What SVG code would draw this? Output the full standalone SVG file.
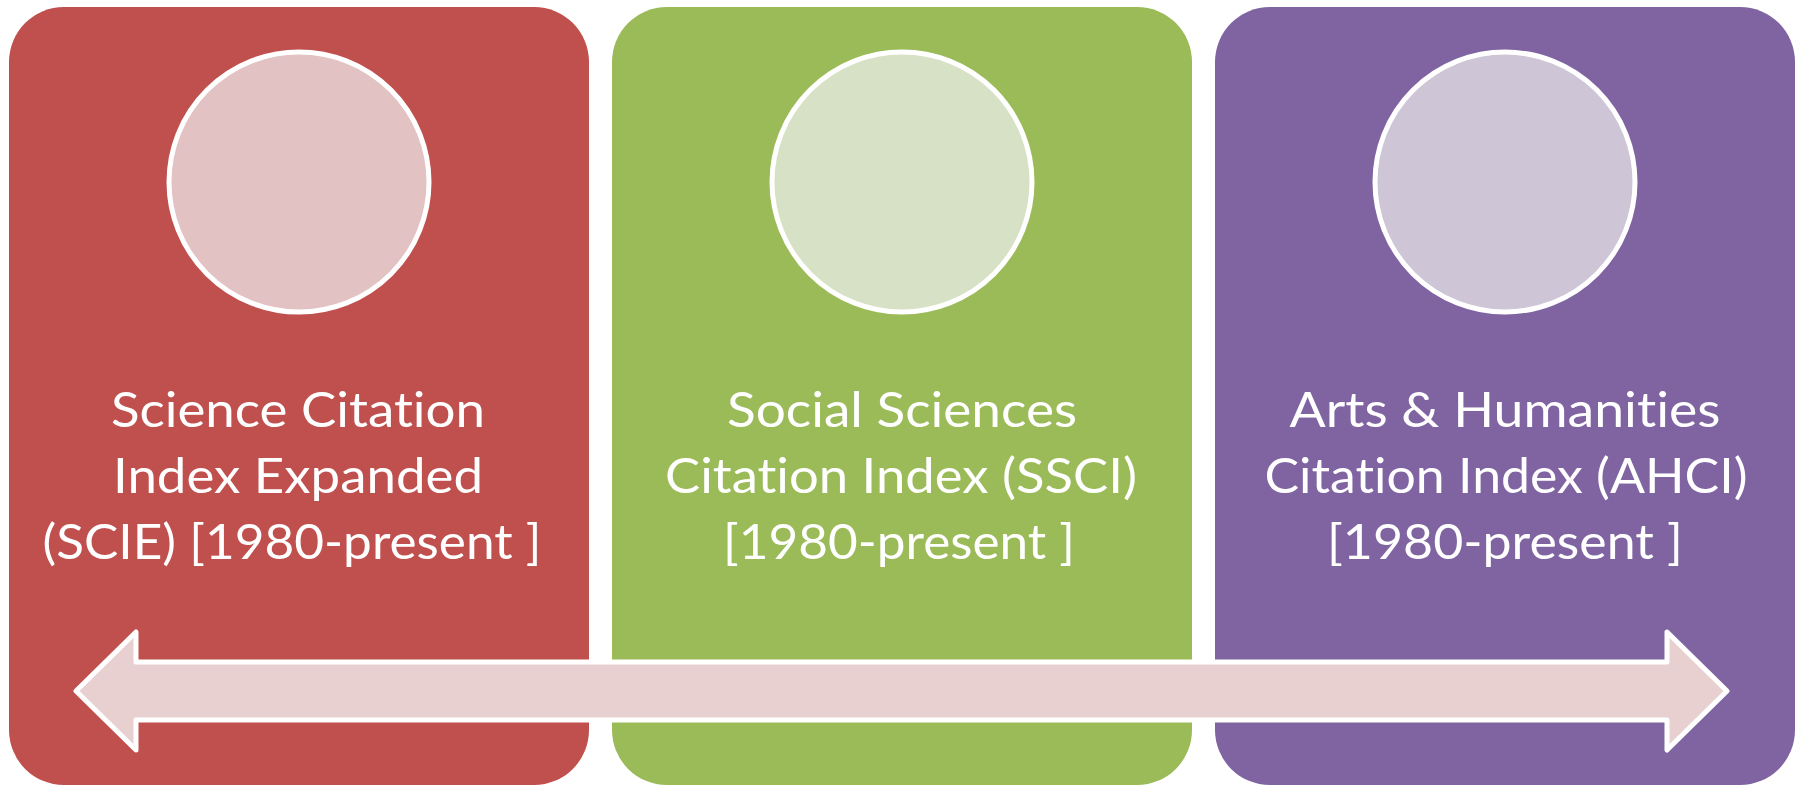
<svg xmlns="http://www.w3.org/2000/svg" width="1803" height="785" viewBox="0 0 1803 785">
<style>
.box{stroke:none}
.disc{stroke:#FFFFFF;stroke-width:5}
.lbl{font-family:Lato,"Open Sans","Liberation Sans",sans-serif;font-size:49px;fill:#FFFFFF;text-anchor:middle;font-variant-ligatures:none;font-feature-settings:"liga" 0,"clig" 0}
.arrow{fill:#E8D0D1;stroke:#FFFFFF;stroke-width:5;stroke-linejoin:round}
</style>
<rect width="1803" height="785" fill="#FFFFFF"/>
<g id="node-scie">
<rect class="box" x="9" y="7" width="580" height="778" rx="55" ry="55" fill="#C0504D"/>
<circle class="disc" cx="299" cy="182" r="130" fill="#E2C2C3"/>
<text class="lbl" x="298" y="427" textLength="374" lengthAdjust="spacingAndGlyphs">Science Citation</text>
<text class="lbl" x="298" y="493" textLength="370" lengthAdjust="spacingAndGlyphs">Index Expanded</text>
<text class="lbl" x="292" y="559" textLength="499" lengthAdjust="spacingAndGlyphs">(SCIE) [1980-present ]</text>
</g>
<g id="node-ssci">
<rect class="box" x="612" y="7" width="580" height="778" rx="55" ry="55" fill="#9BBB59"/>
<circle class="disc" cx="902" cy="182" r="130" fill="#D7E1C6"/>
<text class="lbl" x="902" y="427" textLength="350" lengthAdjust="spacingAndGlyphs">Social Sciences</text>
<text class="lbl" x="901" y="493" textLength="472" lengthAdjust="spacingAndGlyphs">Citation Index (SSCI)</text>
<text class="lbl" x="899" y="559" textLength="352" lengthAdjust="spacingAndGlyphs">[1980-present ]</text>
</g>
<g id="node-ahci">
<rect class="box" x="1215" y="7" width="580" height="778" rx="55" ry="55" fill="#8064A2"/>
<circle class="disc" cx="1505" cy="182" r="130" fill="#CEC6D7"/>
<text class="lbl" x="1505" y="427" textLength="431" lengthAdjust="spacingAndGlyphs">Arts &amp; Humanities</text>
<text class="lbl" x="1506" y="493" textLength="483" lengthAdjust="spacingAndGlyphs">Citation Index (AHCI)</text>
<text class="lbl" x="1505" y="559" textLength="356" lengthAdjust="spacingAndGlyphs">[1980-present ]</text>
</g>
<g id="connectors">
<path class="arrow" d="M76,691 L136,632 L136,662 L1667,662 L1667,632 L1727,691 L1667,750 L1667,720 L136,720 L136,750 Z"/>
</g>
</svg>
